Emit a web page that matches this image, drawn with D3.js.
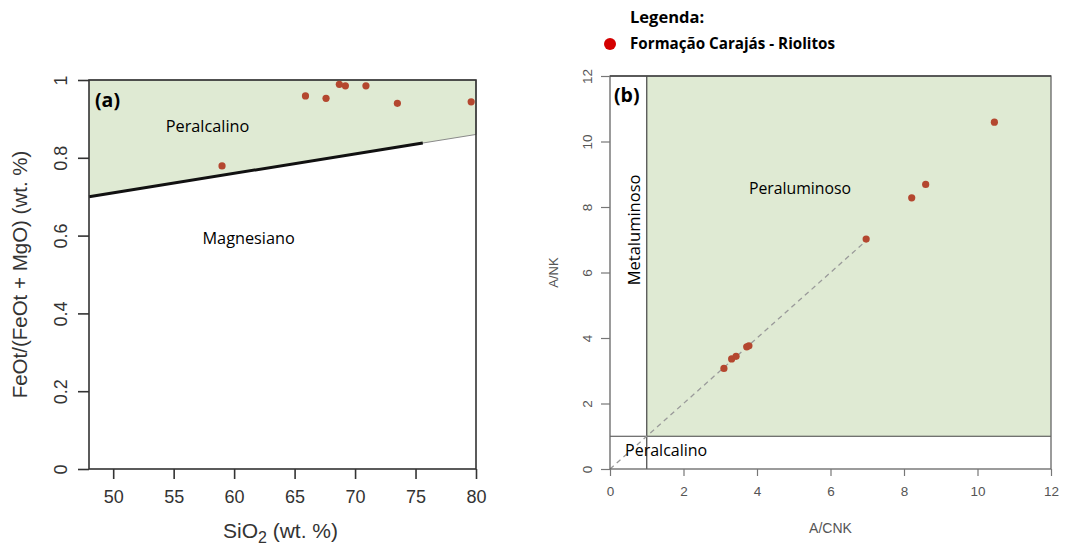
<!DOCTYPE html>
<html>
<head>
<meta charset="utf-8">
<script src="https://cdn.jsdelivr.net/npm/d3@7"></script>
<style>
  body { margin: 0; background: #fff; }
  svg { display: block; }
</style>
</head>
<body>
<svg></svg>
<script>
/* data */
const sio2    = [59.0, 65.9, 67.6, 68.7, 69.2, 70.9, 73.5, 79.6];
const feIndex = [0.779, 0.959, 0.953, 0.989, 0.985, 0.985, 0.940, 0.944];

const acnk = [3.10, 3.31, 3.43, 3.72, 3.78, 6.97, 8.21, 8.59, 10.46];
const ank  = [3.07, 3.36, 3.44, 3.73, 3.76, 7.02, 8.28, 8.69, 10.59];

// Frost et al. boundary and the ferroan field
const boundX = [48, 75.6];
const boundY = [0.70, 0.838];
const fieldX = [48, 80, 80, 48];
const fieldY = [0.70, 0.86, 1, 1];

const ticksA_x = [50, 55, 60, 65, 70, 75, 80];
const ticksA_y = [0, 0.2, 0.4, 0.6, 0.8, 1];
const ticksB = [0, 2, 4, 6, 8, 10, 12];

const W = 1066, H = 547;
const green = "#dfead3", dot = "#b4472f";
const arial = "Liberation Sans, Arial, sans-serif";
const labFont = "Open Sans, Lato, sans-serif";

const svg = d3.select("svg").attr("width", W).attr("height", H);

/* ---- panel (a) ---- */
const xA = d3.scaleLinear().domain([48, 80]).range([89, 476]);
const yA = d3.scaleLinear().domain([0, 1]).range([469, 80]);
const gA = svg.append("g");

gA.append("path")
    .datum(fieldX.map((x, i) => [x, fieldY[i]]))
    .attr("d", d3.line().x(d => xA(d[0])).y(d => yA(d[1])))
    .attr("fill", green)
    .attr("stroke", "#8a8a8a")
    .attr("stroke-width", 1);

gA.append("path")
    .datum(boundX.map((x, i) => [x, boundY[i]]))
    .attr("d", d3.line().x(d => xA(d[0])).y(d => yA(d[1])))
    .attr("stroke", "#111")
    .attr("stroke-width", 3);

gA.append("rect")
    .attr("x", xA(48)).attr("y", yA(1))
    .attr("width", xA(80) - xA(48)).attr("height", yA(0) - yA(1))
    .attr("fill", "none").attr("stroke", "#333").attr("stroke-width", 1.6);

const axA_x = gA.append("g")
    .attr("transform", `translate(0,${yA(0)})`)
    .call(d3.axisBottom(xA).tickValues(ticksA_x).tickSize(10).tickPadding(11));
const axA_y = gA.append("g")
    .attr("transform", `translate(${xA(48)},0)`)
    .call(d3.axisLeft(yA).tickValues(ticksA_y).tickSize(11).tickFormat(d3.format("~g")));
[axA_x, axA_y].forEach(ax => {
  ax.select(".domain").remove();
  ax.selectAll("line").attr("stroke", "#333").attr("stroke-width", 1.6);
  ax.selectAll("text").attr("fill", "#333")
    .attr("font-family", arial).attr("font-size", 18);
});
axA_y.selectAll("text")
    .attr("text-anchor", "middle").attr("x", null).attr("dy", null)
    .attr("transform", "translate(-28,0) rotate(-90)")
    .attr("dominant-baseline", "central");

gA.append("text")
    .attr("x", (xA(48) + xA(80)) / 2 - 2).attr("y", 538)
    .attr("text-anchor", "middle")
    .attr("font-family", arial).attr("font-size", 21).attr("fill", "#333")
    .html('SiO<tspan dy="5" font-size="16">2</tspan><tspan dy="-5"> (wt. %)</tspan>');

gA.append("text")
    .attr("transform", `translate(27,${(yA(0) + yA(1)) / 2}) rotate(-90)`)
    .attr("text-anchor", "middle")
    .attr("font-family", arial).attr("font-size", 20.5).attr("fill", "#333")
    .text("FeOt/(FeOt + MgO) (wt. %)");

gA.selectAll("circle.pt")
    .data(sio2.map((x, i) => [x, feIndex[i]]))
    .join("circle")
    .attr("class", "pt")
    .attr("cx", d => xA(d[0])).attr("cy", d => yA(d[1]))
    .attr("r", 3.6).attr("fill", dot);

gA.append("text").attr("x", 95).attr("y", yA(1) + 27)
    .attr("font-family", labFont).attr("font-weight", "bold").attr("font-size", 19.5).text("(a)");
gA.append("text").attr("x", xA(57.8)).attr("y", yA(0.882)).attr("dy", "0.35em")
    .attr("text-anchor", "middle").attr("font-family", labFont).attr("font-size", 16.3).text("Peralcalino");
gA.append("text").attr("x", xA(61.2)).attr("y", yA(0.594)).attr("dy", "0.35em")
    .attr("text-anchor", "middle").attr("font-family", labFont).attr("font-size", 16.3).text("Magnesiano");

/* ---- panel (b) ---- */
const xB = d3.scaleLinear().domain([0, 12]).range([610, 1051]);
const yB = d3.scaleLinear().domain([0, 12]).range([469, 76]);
const gB = svg.append("g");

gB.append("rect")
    .attr("x", xB(1)).attr("y", yB(12))
    .attr("width", xB(12) - xB(1)).attr("height", yB(1) - yB(12))
    .attr("fill", green);

gB.append("line")
    .attr("x1", xB(1)).attr("x2", xB(1)).attr("y1", yB(0)).attr("y2", yB(12))
    .attr("stroke", "#444").attr("stroke-width", 1.2);
gB.append("line")
    .attr("x1", xB(0)).attr("x2", xB(12)).attr("y1", yB(1)).attr("y2", yB(1))
    .attr("stroke", "#444").attr("stroke-width", 1.2);

gB.append("line")
    .attr("x1", xB(0)).attr("y1", yB(0)).attr("x2", xB(6.95)).attr("y2", yB(6.95))
    .attr("stroke", "#9a9a9a").attr("stroke-width", 1.3).attr("stroke-dasharray", "5,4");

gB.append("rect")
    .attr("x", xB(0)).attr("y", yB(12))
    .attr("width", xB(12) - xB(0)).attr("height", yB(0) - yB(12))
    .attr("fill", "none").attr("stroke", "#666").attr("stroke-width", 1.3);
gB.append("line")
    .attr("x1", xB(0)).attr("x2", xB(12)).attr("y1", yB(12)).attr("y2", yB(12))
    .attr("stroke", "#444").attr("stroke-width", 1.5);

const axB_x = gB.append("g")
    .attr("transform", `translate(0,${yB(0)})`)
    .call(d3.axisBottom(xB).tickValues(ticksB).tickSize(7).tickPadding(10));
const axB_y = gB.append("g")
    .attr("transform", `translate(${xB(0)},0)`)
    .call(d3.axisLeft(yB).tickValues(ticksB).tickSize(9));
[axB_x, axB_y].forEach(ax => {
  ax.select(".domain").remove();
  ax.selectAll("line").attr("stroke", "#777").attr("stroke-width", 1.2);
  ax.selectAll("text").attr("fill", "#555")
    .attr("font-family", arial).attr("font-size", 13.5);
});
axB_y.selectAll("text")
    .attr("text-anchor", "middle").attr("x", null).attr("dy", null)
    .attr("transform", "translate(-23,0) rotate(-90)")
    .attr("dominant-baseline", "central");

gB.append("text")
    .attr("x", (xB(0) + xB(12)) / 2).attr("y", 533)
    .attr("text-anchor", "middle")
    .attr("font-family", arial).attr("font-size", 14).attr("fill", "#555")
    .text("A/CNK");
gB.append("text")
    .attr("transform", `translate(558,${(yB(0) + yB(12)) / 2}) rotate(-90)`)
    .attr("text-anchor", "middle")
    .attr("font-family", arial).attr("font-size", 13).attr("fill", "#555")
    .text("A/NK");

gB.selectAll("circle.pt")
    .data(acnk.map((x, i) => [x, ank[i]]))
    .join("circle")
    .attr("class", "pt")
    .attr("cx", d => xB(d[0])).attr("cy", d => yB(d[1]))
    .attr("r", 3.6).attr("fill", dot);

gB.append("text").attr("x", 614).attr("y", yB(12) + 26)
    .attr("font-family", labFont).attr("font-weight", "bold").attr("font-size", 19.5).text("(b)");
gB.append("text").attr("x", xB(5.17)).attr("y", yB(8.58)).attr("dy", "0.35em")
    .attr("text-anchor", "middle").attr("font-family", labFont).attr("font-size", 15.8).text("Peraluminoso");
gB.append("text")
    .attr("transform", `translate(${xB(0.65)},${yB(7.3)}) rotate(-90)`)
    .attr("dy", "0.35em")
    .attr("text-anchor", "middle").attr("font-family", labFont).attr("font-size", 16.5).text("Metaluminoso");
gB.append("text").attr("x", xB(0.41)).attr("y", yB(0.58)).attr("dy", "0.35em")
    .attr("font-family", labFont).attr("font-size", 16).text("Peralcalino");

/* ---- legend ---- */
const legend = svg.append("g").attr("transform", "translate(610,0)");
legend.append("text").attr("x", 20).attr("y", 17).attr("dy", "0.35em")
    .attr("font-family", labFont).attr("font-weight", "bold").attr("font-size", 16.5).text("Legenda:");
legend.append("circle").attr("cx", 0).attr("cy", 44).attr("r", 6).attr("fill", "#d40000");
legend.append("text").attr("x", 20).attr("y", 44).attr("dy", "0.35em")
    .attr("font-family", labFont).attr("font-weight", "bold").attr("font-size", 15.2).text("Formação Carajás - Riolitos");
</script>
</body>
</html>
